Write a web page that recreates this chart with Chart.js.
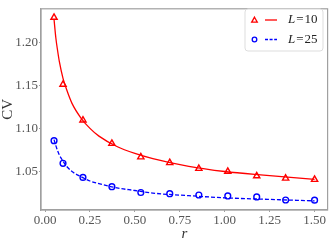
<!DOCTYPE html>
<html>
<head>
<meta charset="utf-8">
<script src="https://cdn.jsdelivr.net/npm/chart.js@4/dist/chart.umd.min.js"></script>
<style>
  html, body { margin: 0; padding: 0; background: #ffffff; }
  #wrap { width: 333px; height: 242px; }
</style>
</head>
<body>
<div id="wrap"><canvas id="c" width="333" height="242"></canvas></div>
<script>
// ---- data ----
const rValues = [0.05, 0.1, 0.211, 0.372, 0.533, 0.694, 0.856, 1.017, 1.178, 1.339, 1.5];
const cvL10 = [1.2285, 1.151, 1.1095, 1.0824, 1.0668, 1.0601, 1.0534, 1.0500, 1.0448, 1.0421, 1.0407];
const cvL25 = [1.0858, 1.0595, 1.0432, 1.0324, 1.0257, 1.0243, 1.0228, 1.0217, 1.0205, 1.0170, 1.0168];

// fitted curves (read at sample positions along the drawn lines)
const fitR = [0.05, 0.06, 0.07, 0.08, 0.1, 0.12, 0.15, 0.2, 0.25, 0.3, 0.4, 0.5, 0.6, 0.8, 1.0, 1.2, 1.5];
const fitL10 = [1.2265, 1.205, 1.190, 1.177, 1.158, 1.145, 1.129, 1.112, 1.100, 1.091, 1.079, 1.071, 1.065, 1.056, 1.050, 1.046, 1.041];
const fitL25 = [1.0870, 1.080, 1.074, 1.069, 1.062, 1.056, 1.050, 1.044, 1.039, 1.036, 1.031, 1.028, 1.025, 1.022, 1.0195, 1.018, 1.016];

const seriesLabels = ['10', '25'];
const xTicks = [0.00, 0.25, 0.50, 0.75, 1.00, 1.25, 1.50];
const yTicks = [1.05, 1.10, 1.15, 1.20];
const xLabel = 'r';
const yLabel = 'CV';

const RED = '#ff0000';
const BLUE = '#0000ff';
const AXIS = '#a0a0a0';
const TEXT = '#555555';
const SERIF = '"Liberation Serif", "DejaVu Serif", serif';

const pts = (xs, ys) => xs.map((x, i) => ({ x: x, y: ys[i] }));

const framePlugin = {
  id: 'frame',
  afterDatasetsDraw(chart) {
    const { ctx, chartArea: a } = chart;
    ctx.save();
    ctx.strokeStyle = AXIS;
    ctx.lineWidth = 1.2;
    ctx.strokeRect(a.left, a.top, a.right - a.left, a.bottom - a.top);
    ctx.restore();
  }
};

const legendPlugin = {
  id: 'customLegend',
  afterDraw(chart) {
    const ctx = chart.ctx;
    const bx = 245, by = 9, bw = 78, bh = 42, rad = 3;
    ctx.save();
    ctx.beginPath();
    ctx.moveTo(bx + rad, by);
    ctx.arcTo(bx + bw, by, bx + bw, by + bh, rad);
    ctx.arcTo(bx + bw, by + bh, bx, by + bh, rad);
    ctx.arcTo(bx, by + bh, bx, by, rad);
    ctx.arcTo(bx, by, bx + bw, by, rad);
    ctx.closePath();
    ctx.fillStyle = 'rgba(255,255,255,0.85)';
    ctx.fill();
    ctx.strokeStyle = '#dddddd';
    ctx.lineWidth = 1;
    ctx.stroke();

    const rows = [
      { y: 20, color: RED, style: 'triangle', dash: [], label: seriesLabels[0] },
      { y: 39.5, color: BLUE, style: 'circle', dash: [3, 1.6], label: seriesLabels[1] }
    ];
    rows.forEach(row => {
      ctx.strokeStyle = row.color;
      ctx.lineWidth = 1.3;
      ctx.beginPath();
      if (row.style === 'triangle') {
        ctx.moveTo(254.5, row.y - 2.8);
        ctx.lineTo(257.3, row.y + 2.2);
        ctx.lineTo(251.7, row.y + 2.2);
        ctx.closePath();
      } else {
        ctx.arc(254.5, row.y, 2.3, 0, Math.PI * 2);
      }
      ctx.stroke();
      ctx.beginPath();
      ctx.setLineDash(row.dash);
      ctx.moveTo(265, row.y);
      ctx.lineTo(277, row.y);
      ctx.stroke();
      ctx.setLineDash([]);
      ctx.fillStyle = '#222222';
      ctx.textBaseline = 'middle';
      ctx.textAlign = 'left';
      ctx.font = 'italic 13px ' + SERIF;
      let x = 288;
      ctx.fillText('L', x, row.y);
      x += ctx.measureText('L').width + 1;
      ctx.font = '13px ' + SERIF;
      ctx.fillText('=', x, row.y);
      x += ctx.measureText('=').width + 1;
      ctx.fillText(row.label, x, row.y);
    });
    ctx.restore();
  }
};

new Chart(document.getElementById('c'), {
  type: 'scatter',
  data: {
    datasets: [
      {
        data: pts(fitR, fitL10),
        showLine: true,
        borderColor: RED,
        borderWidth: 1.3,
        pointRadius: 0,
        cubicInterpolationMode: 'monotone',
        fill: false
      },
      {
        data: pts(fitR, fitL25),
        showLine: true,
        borderColor: BLUE,
        borderWidth: 1.3,
        borderDash: [4, 2],
        pointRadius: 0,
        cubicInterpolationMode: 'monotone',
        fill: false
      },
      {
        data: pts(rValues, cvL10),
        showLine: false,
        pointStyle: 'triangle',
        pointRadius: 3.6,
        pointBorderWidth: 1.4,
        borderColor: RED,
        backgroundColor: '#ffffff'
      },
      {
        data: pts(rValues, cvL25),
        showLine: false,
        pointStyle: 'circle',
        pointRadius: 2.9,
        pointBorderWidth: 1.4,
        borderColor: BLUE,
        backgroundColor: '#ffffff'
      }
    ]
  },
  options: {
    responsive: false,
    animation: false,
    devicePixelRatio: 1,
    layout: { padding: { left: 0, right: 3, top: 3, bottom: 0 } },
    plugins: {
      legend: { display: false },
      tooltip: { enabled: false }
    },
    scales: {
      x: {
        type: 'linear',
        min: -0.0225,
        max: 1.5725,
        afterBuildTicks: s => { s.ticks = xTicks.map(v => ({ value: v })); },
        afterFit: s => { s.height = 32; },
        ticks: {
          callback: v => Number(v).toFixed(2),
          font: { family: SERIF, size: 13 },
          color: TEXT,
          padding: 1,
          maxRotation: 0,
          autoSkip: false
        },
        grid: { display: true, drawOnChartArea: false, drawTicks: true, tickLength: 2, color: AXIS },
        border: { display: true, color: AXIS, width: 1.2 },
        title: {
          display: true,
          text: xLabel,
          color: '#333333',
          font: { family: SERIF, size: 15, style: 'italic', lineHeight: 1.1 },
          padding: { top: 0, bottom: 0 }
        }
      },
      y: {
        type: 'linear',
        min: 1.0054,
        max: 1.2386,
        afterBuildTicks: s => { s.ticks = yTicks.map(v => ({ value: v })); },
        afterFit: s => { s.width = 41; },
        ticks: {
          callback: v => Number(v).toFixed(2),
          font: { family: SERIF, size: 13 },
          color: TEXT,
          padding: 1,
          autoSkip: false
        },
        grid: { display: true, drawOnChartArea: false, drawTicks: true, tickLength: 2, color: AXIS },
        border: { display: true, color: AXIS, width: 1.2 },
        title: {
          display: true,
          text: yLabel,
          color: '#333333',
          font: { family: SERIF, size: 15, lineHeight: 1.1 },
          padding: { top: 0, bottom: 0 }
        }
      }
    }
  },
  plugins: [framePlugin, legendPlugin]
});
</script>
</body>
</html>
